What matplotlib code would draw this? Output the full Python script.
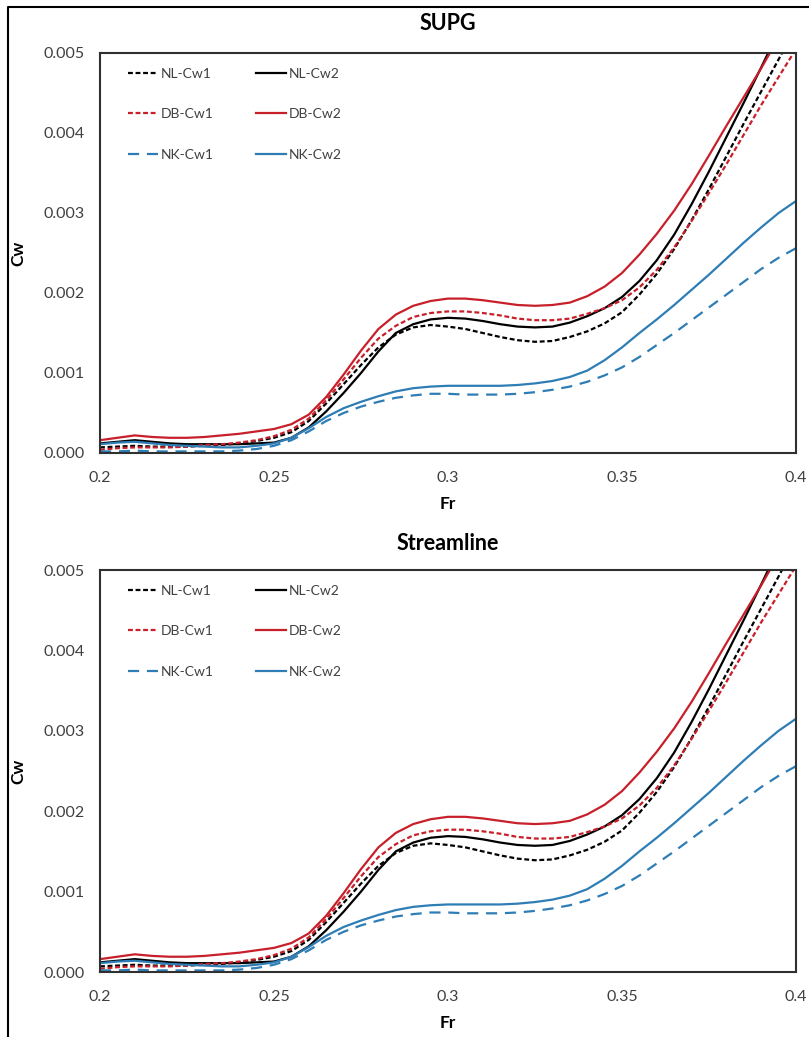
import matplotlib
matplotlib.use('Agg')
import matplotlib.pyplot as plt
from matplotlib.lines import Line2D
import numpy as np

plt.rcParams['font.family'] = ['Lato', 'DejaVu Sans']

# Froude number samples
Fr = [0.200, 0.205, 0.210, 0.215, 0.220, 0.225, 0.230, 0.235, 0.240, 0.245,
      0.250, 0.255, 0.260, 0.265, 0.270, 0.275, 0.280, 0.285, 0.290, 0.295,
      0.300, 0.305, 0.310, 0.315, 0.320, 0.325, 0.330, 0.335, 0.340, 0.345,
      0.350, 0.355, 0.360, 0.365, 0.370, 0.375, 0.380, 0.385, 0.390, 0.395,
      0.400]

# wave resistance coefficients
nl_cw1 = [0.00007, 0.00008, 0.00009, 0.00008, 0.00008, 0.00008, 0.00009, 0.00010, 0.00012, 0.00015,
          0.00019, 0.00026, 0.00040, 0.00062, 0.00086, 0.00110, 0.00132, 0.00148, 0.00157, 0.00160,
          0.00158, 0.00155, 0.00150, 0.00145, 0.00141, 0.00139, 0.00140, 0.00145, 0.00152, 0.00162,
          0.00176, 0.00198, 0.00224, 0.00255, 0.00291, 0.00330, 0.00371, 0.00412, 0.00452, 0.00492,
          0.00533]
nl_cw2 = [0.00012, 0.00014, 0.00016, 0.00014, 0.00012, 0.00011, 0.00011, 0.00011, 0.00011, 0.00012,
          0.00013, 0.00019, 0.00032, 0.00052, 0.00075, 0.00100, 0.00127, 0.00150, 0.00161, 0.00167,
          0.00169, 0.00168, 0.00165, 0.00161, 0.00158, 0.00157, 0.00158, 0.00163, 0.00171, 0.00181,
          0.00195, 0.00215, 0.00241, 0.00273, 0.00311, 0.00352, 0.00395, 0.00438, 0.00482, 0.00527,
          0.00572]
db_cw1 = [0.00004, 0.00006, 0.00007, 0.00007, 0.00007, 0.00008, 0.00010, 0.00011, 0.00013, 0.00016,
          0.00021, 0.00029, 0.00043, 0.00066, 0.00092, 0.00119, 0.00143, 0.00159, 0.00170, 0.00175,
          0.00177, 0.00177, 0.00175, 0.00172, 0.00168, 0.00166, 0.00166, 0.00168, 0.00174, 0.00181,
          0.00191, 0.00207, 0.00229, 0.00257, 0.00290, 0.00325, 0.00361, 0.00398, 0.00435, 0.00470,
          0.00505]
db_cw2 = [0.00016, 0.00019, 0.00022, 0.00020, 0.00019, 0.00019, 0.00020, 0.00022, 0.00024, 0.00027,
          0.00030, 0.00036, 0.00048, 0.00070, 0.00098, 0.00128, 0.00155, 0.00173, 0.00184, 0.00190,
          0.00193, 0.00193, 0.00191, 0.00188, 0.00185, 0.00184, 0.00185, 0.00188, 0.00196, 0.00208,
          0.00225, 0.00248, 0.00274, 0.00303, 0.00336, 0.00372, 0.00409, 0.00445, 0.00481, 0.00519,
          0.00560]
nk_cw1 = [0.00002, 0.00002, 0.00003, 0.00002, 0.00002, 0.00002, 0.00002, 0.00002, 0.00003, 0.00005,
          0.00009, 0.00016, 0.00027, 0.00040, 0.00050, 0.00058, 0.00064, 0.00069, 0.00072, 0.00074,
          0.00074, 0.00073, 0.00073, 0.00073, 0.00074, 0.00076, 0.00079, 0.00083, 0.00089, 0.00097,
          0.00107, 0.00120, 0.00135, 0.00150, 0.00166, 0.00182, 0.00198, 0.00214, 0.00230, 0.00244,
          0.00256]
nk_cw2 = [0.00011, 0.00013, 0.00014, 0.00012, 0.00010, 0.00009, 0.00008, 0.00007, 0.00007, 0.00009,
          0.00012, 0.00019, 0.00031, 0.00045, 0.00056, 0.00064, 0.00071, 0.00077, 0.00081, 0.00083,
          0.00084, 0.00084, 0.00084, 0.00084, 0.00085, 0.00087, 0.00090, 0.00095, 0.00103, 0.00116,
          0.00132, 0.00150, 0.00167, 0.00185, 0.00204, 0.00223, 0.00243, 0.00263, 0.00282, 0.00300,
          0.00315]

titles = ['SUPG', 'Streamline']
x_ticks = [0.2, 0.25, 0.3, 0.35, 0.4]
x_labels = ['0.2', '0.25', '0.3', '0.35', '0.4']
y_ticks = [0.0, 0.001, 0.002, 0.003, 0.004, 0.005]
y_labels = ['0.000', '0.001', '0.002', '0.003', '0.004', '0.005']

RED = '#C8202A'
BLUE = '#2E7DB5'
GREY = '#404040'

series = [
    ('NL-Cw1', nl_cw1, 'black', (0, (2.2, 1.2))),
    ('NL-Cw2', nl_cw2, 'black', '-'),
    ('DB-Cw1', db_cw1, RED, (0, (2.2, 1.2))),
    ('DB-Cw2', db_cw2, RED, '-'),
    ('NK-Cw1', nk_cw1, BLUE, (0, (5, 3.5))),
    ('NK-Cw2', nk_cw2, BLUE, '-'),
]

W, H = 809, 1037
fig = plt.figure(figsize=(W / 100, H / 100), dpi=100)

# plot boxes in pixels: left, top, right, bottom, title gap
boxes = [(100, 53, 796, 453, 30), (100, 570, 796, 972, 27)]

for title, (l, t, r, b, tg) in zip(titles, boxes):
    ax = fig.add_axes([l / W, 1 - b / H, (r - l) / W, (b - t) / H])
    lines = []
    for name, vals, col, ls in series:
        ln, = ax.plot(Fr, vals, color=col, linestyle=ls, linewidth=1.6, label=name)
        lines.append(ln)
    ax.set_xlim(0.2, 0.4)
    ax.set_ylim(0, 0.005)
    ax.set_xticks(x_ticks)
    ax.set_xticklabels(x_labels)
    ax.set_yticks(y_ticks)
    ax.set_yticklabels(y_labels)
    ax.tick_params(length=0, labelsize=11.5, labelcolor=GREY)
    ax.tick_params(axis='x', pad=13)
    ax.tick_params(axis='y', pad=11)
    for sp in ax.spines.values():
        sp.set_linewidth(1.5)
        sp.set_color('#303030')

    # legend fills column by column, so feed the solid/dashed pairs row-wise
    order = [0, 2, 4, 1, 3, 5]
    ax.legend([lines[i] for i in order], [series[i][0] for i in order],
              ncol=2, loc='upper left', bbox_to_anchor=(0.04, 0.963),
              frameon=False, fontsize=10, labelcolor=GREY,
              handlelength=2.2, handletextpad=0.2, columnspacing=3.0,
              labelspacing=2.05, borderpad=0, borderaxespad=0)

    cx = (l + r) / 2 / W
    fig.text(cx, 1 - (t - tg) / H, title, ha='center', va='center',
             fontsize=15.5, fontweight='bold', color='black')
    fig.text(cx, 1 - (b + 51) / H, 'Fr', ha='center', va='center',
             fontsize=12.5, fontweight='bold', color='black')
    fig.text(18 / W, 1 - (t + b) / 2 / H, 'Cw', ha='center', va='center',
             rotation=90, fontsize=12.5, fontweight='bold', color='black')

# outer frame around the whole figure
fig.add_artist(Line2D([8 / W, 8 / W, 1.0], [0.0, 1 - 7 / H, 1 - 7 / H],
                      transform=fig.transFigure, color='black', linewidth=1.5))

fig.savefig('out.png', dpi=100)
